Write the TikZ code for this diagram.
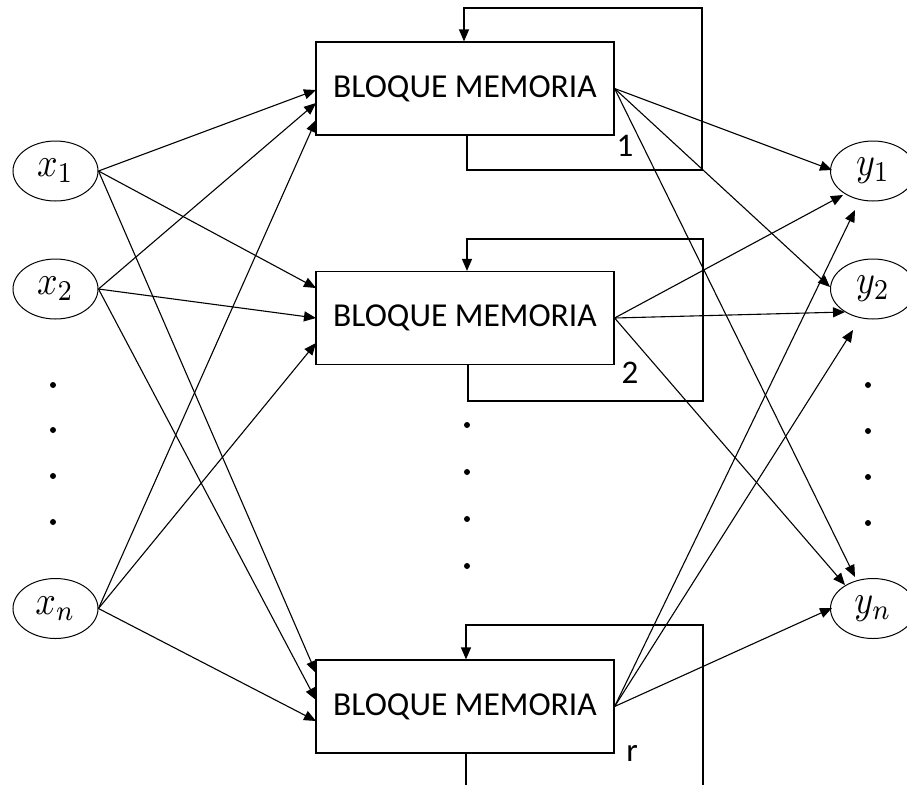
\documentclass[tikz,border=0pt]{standalone}
\usepackage{graphicx}
\usepackage{fontspec}
\setmainfont{Carlito}
\usetikzlibrary{arrows.meta,shapes.geometric}
\newcommand{\varlabel}[1]{\scalebox{3.6}[4.1]{$#1$}}

\begin{document}
\begin{tikzpicture}[x=1pt,y=-1pt,
  var/.style={draw, ellipse, minimum width=85pt, minimum height=60pt,
    inner sep=0pt, line width=1pt},
  mem/.style={draw, rectangle, minimum width=298pt, minimum height=93pt,
    inner sep=0pt, line width=1.2pt, font=\fontsize{33.5}{40}\selectfont},
  tag/.style={inner sep=0pt, font=\fontsize{33}{40}\selectfont},
  conn/.style={line width=1.1pt, -{Triangle[length=12pt,width=10pt]}},
  fb/.style={line width=1.2pt},
  fbarrow/.style={fb, -{Triangle[length=12pt,width=10pt]}},
  pt/.style={fill=black}
]
\useasboundingbox (0,0) rectangle (907,785);

% inputs and outputs
\node[var] (x1) at (55.5,171)   {\varlabel{x_1}};
\node[var] (x2) at (55.5,289)   {\varlabel{x_2}};
\node[var] (xn) at (55.5,608.5) {\varlabel{x_n}};
\node[var] (y1) at (873,171)    {\varlabel{y_1}};
\node[var] (y2) at (873,289)    {\varlabel{y_2}};
\node[var] (yn) at (873,608.5)  {\varlabel{y_n}};

% memory blocks
\node[mem] (b1) at (465,88.5)  {BLOQUE MEMORIA};
\node[mem] (b2) at (465,318)   {BLOQUE MEMORIA};
\node[mem] (b3) at (465,706.5) {BLOQUE MEMORIA};

% block numbers
\node[tag] (n1) at (625,146) {1};
\node[tag] (n2) at (630,373) {2};
\node[tag] (nr) at (632,753) {r};

% entry points on the left side of each block
\coordinate (b1i1) at (316,90);  \coordinate (b1i2) at (316,103); \coordinate (b1i3) at (316,120);
\coordinate (b2i1) at (316,288); \coordinate (b2i2) at (316,318); \coordinate (b2i3) at (316,343);
\coordinate (b3i1) at (316,673); \coordinate (b3i2) at (316,700); \coordinate (b3i3) at (316,721);

% arrow ends near the outputs
\coordinate (y1a) at (832,170); \coordinate (y1b) at (843,195); \coordinate (y1c) at (855,210);
\coordinate (y2a) at (830,287); \coordinate (y2b) at (845,312); \coordinate (y2c) at (853,330);
\coordinate (yna) at (855,577); \coordinate (ynb) at (845,585); \coordinate (ync) at (832,608);

% inputs to blocks
\draw[conn] (x1.east) -- (b1i1);
\draw[conn] (x1.east) -- (b2i1);
\draw[conn] (x1.east) -- (b3i1);
\draw[conn] (x2.east) -- (b1i2);
\draw[conn] (x2.east) -- (b2i2);
\draw[conn] (x2.east) -- (b3i2);
\draw[conn] (xn.east) -- (b1i3);
\draw[conn] (xn.east) -- (b2i3);
\draw[conn] (xn.east) -- (b3i3);

% blocks to outputs
\draw[conn] (b1.east) -- (y1a);
\draw[conn] (b1.east) -- (y2a);
\draw[conn] (b1.east) -- (yna);
\draw[conn] (b2.east) -- (y1b);
\draw[conn] (b2.east) -- (y2b);
\draw[conn] (b2.east) -- (ynb);
\draw[conn] (b3.east) -- (y1c);
\draw[conn] (b3.east) -- (y2c);
\draw[conn] (b3.east) -- (ync);

% recurrent loops
\coordinate (l1s) at (467,170); \coordinate (l1c) at (702,170); \coordinate (l1t) at (464,8);
\draw[fbarrow] (b1.south -| l1s) |- (l1c) |- (l1t) -- (b1.north -| l1t);

\coordinate (l2s) at (468,401); \coordinate (l2c) at (703,401); \coordinate (l2t) at (467,239);
\draw[fbarrow] (b2.south -| l2s) |- (l2c) |- (l2t) -- (b2.north -| l2t);

\coordinate (l3s) at (466,785); \coordinate (l3r) at (703,785); \coordinate (l3t) at (466,625);
\draw[fb] (b3.south -| l3s) -- (l3s);
\draw[fbarrow] (l3r) |- (l3t) -- (b3.north -| l3t);

% ellipsis dots
\foreach \yy in {385,430,476,522} \fill[pt] (53,\yy) circle (3pt);
\foreach \yy in {425,472,519,566} \fill[pt] (467,\yy) circle (3pt);
\foreach \yy in {385,431,477,523} \fill[pt] (868,\yy) circle (3pt);
\end{tikzpicture}
\end{document}
